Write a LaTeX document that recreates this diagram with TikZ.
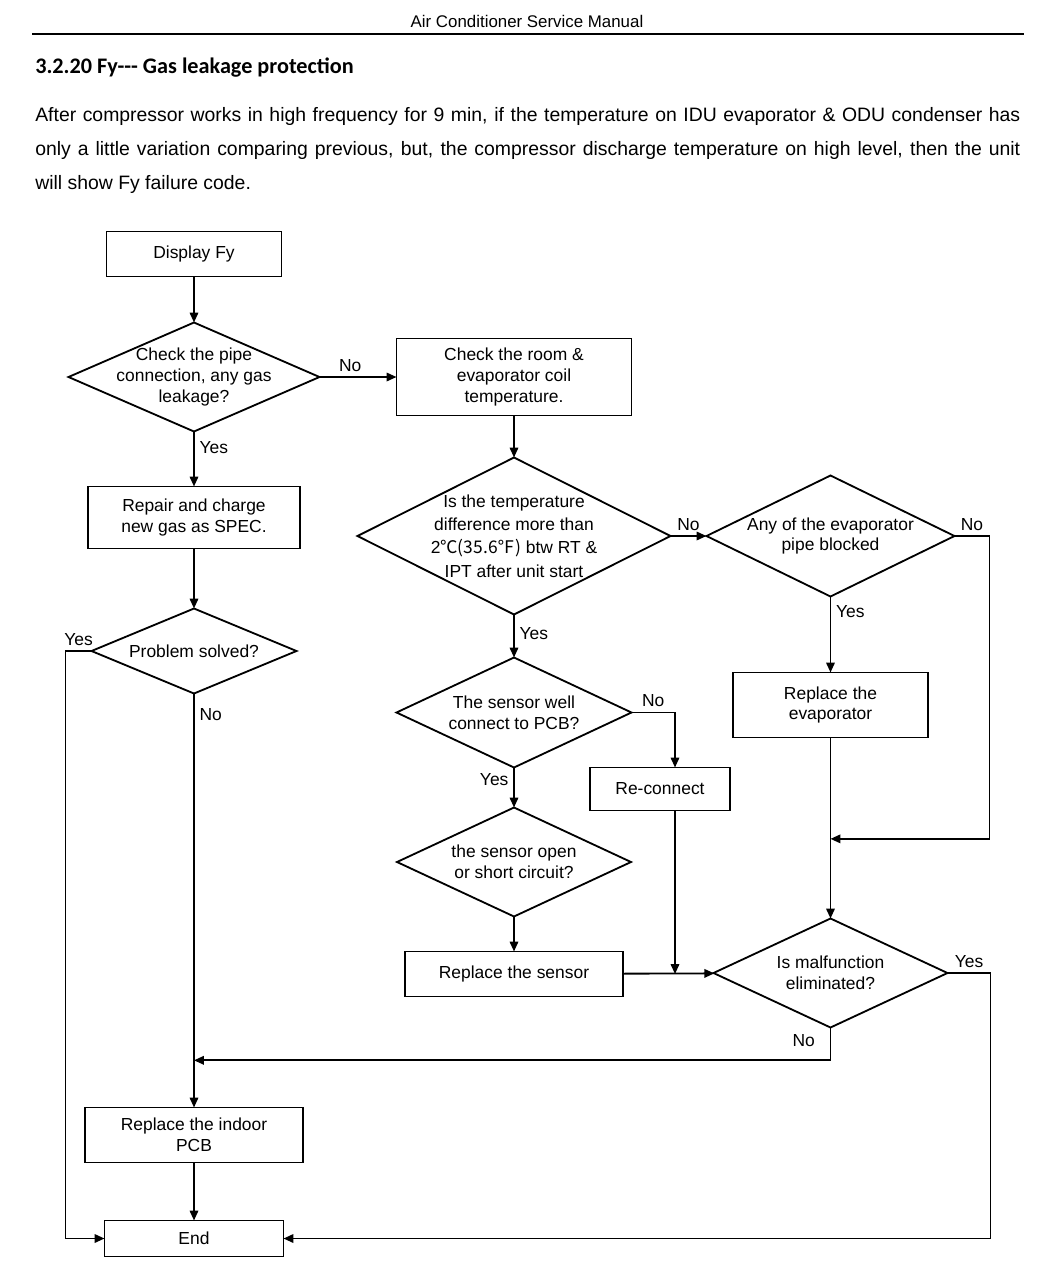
\documentclass[tikz,border=0pt]{standalone}
\usepackage{fontspec}
\setmainfont{Liberation Sans}
\newfontfamily\headingfont{Carlito}
\newfontfamily\cjkfont{Noto Sans CJK SC}
\usepackage{tikz}
\usetikzlibrary{shapes.geometric, positioning, arrows.meta, calc}

\newlength{\unitpx}
\setlength{\unitpx}{0.025cm}

\tikzset{
    block/.style={draw, line width=1.3pt, rectangle, align=center,
        inner sep=0pt, outer sep=0pt},
    decision/.style={draw, line width=1.3pt, diamond, aspect=2.15,
        align=center, inner sep=0pt, outer sep=0pt},
    flow/.style={->, line width=1.3pt},
}

\begin{document}
\begin{tikzpicture}[x=0.025cm, y=-0.025cm,
    >={Triangle[length=7pt,width=6pt]},
    font=\fontsize{12.4}{14.6}\selectfont]

    \fill[white] (0,0) rectangle (1044,1278);
    \useasboundingbox (0,0) rectangle (1044,1278);

    % page head and text
    \node[font=\fontsize{12}{14}\selectfont, anchor=base, inner sep=0pt]
        (head) at (527,27) {Air Conditioner Service Manual};
    \draw[line width=1.4pt] (32,34) -- (1024,34);
    \node[font=\headingfont\bfseries\fontsize{15.8}{18}\selectfont,
        anchor=base west, inner sep=0pt]
        (title) at (35,73) {3.2.20 Fy--- Gas leakage protection};
    \node[font=\fontsize{13.8}{24.2}\selectfont, anchor=base west,
        inner sep=0pt, text width=985\unitpx, align=justify]
        (intro) at (35,121) {After compressor works in high frequency for 9 min, if the temperature on IDU evaporator \& ODU condenser has\linebreak only a little variation comparing previous, but, the compressor discharge temperature on high level, then the unit\linebreak will show Fy failure code.};

    % left column
    \node[block, minimum width=175\unitpx, minimum height=45\unitpx]
        (disp) at (194,254) {Display Fy};
    \node[decision, minimum width=251\unitpx, minimum height=109\unitpx,
        aspect=2.3, inner ysep=-10pt, below=46\unitpx of disp]
        (pipe) {Check the pipe\\connection, any gas\\leakage?};
    \node[block, minimum width=212\unitpx, minimum height=62\unitpx,
        below=55\unitpx of pipe]
        (repair) {Repair and charge\\new gas as SPEC.};
    \node[decision, minimum width=205\unitpx, minimum height=85\unitpx,
        aspect=2.4, below=60\unitpx of repair]
        (solved) {Problem solved?};
    \node[block, minimum width=218\unitpx, minimum height=55\unitpx,
        below=414\unitpx of solved]
        (pcb) {Replace the indoor\\PCB};
    \node[block, minimum width=179\unitpx, minimum height=36\unitpx,
        below=58\unitpx of pcb]
        (end) {End};

    % middle and right columns
    \node[block, minimum width=235\unitpx, minimum height=77\unitpx,
        right=77\unitpx of pipe]
        (room) {Check the room \&\\evaporator coil\\temperature.};
    \node[decision, minimum width=313\unitpx, minimum height=157\unitpx,
        aspect=2, inner ysep=-10pt, font=\fontsize{12.4}{16.7}\selectfont,
        below=42\unitpx of room]
        (tdiff) {Is the temperature\\difference more than\\2{\cjkfont ℃(35.6℉)} btw RT \&\\IPT after unit start};
    \node[decision, minimum width=248\unitpx, minimum height=121\unitpx,
        aspect=2.05, inner ysep=-10pt, right=36\unitpx of tdiff]
        (blocked) {Any of the evaporator\\pipe blocked};
    \node[block, minimum width=195\unitpx, minimum height=65\unitpx,
        below=76\unitpx of blocked]
        (evap) {Replace the\\evaporator};
    \node[decision, minimum width=235\unitpx, minimum height=110\unitpx,
        below=43\unitpx of tdiff]
        (wired) {The sensor well\\connect to PCB?};
    \node[decision, minimum width=234\unitpx, minimum height=109\unitpx,
        below=40\unitpx of wired]
        (short) {the sensor open\\or short circuit?};
    \node[block, minimum width=218\unitpx, minimum height=45\unitpx,
        below=35\unitpx of short]
        (sensor) {Replace the sensor};
    \node[block, minimum width=140\unitpx, minimum height=43\unitpx]
        (reconn) at (660,789) {Re-connect};
    \node[decision, minimum width=234\unitpx, minimum height=109\unitpx,
        below=181\unitpx of evap]
        (fixed) {Is malfunction\\eliminated?};

    \coordinate (rcTop) at ([xshift=15\unitpx]reconn.north);
    \coordinate (rcBot) at ([xshift=15\unitpx]reconn.south);
    \coordinate (joinR) at ($(evap.south)!0.56!(fixed.north)$);
    \coordinate (joinM) at (rcBot |- sensor.east);
    \coordinate (joinL) at ($(solved.south)!0.886!(pcb.north)$);

    \draw[flow] (disp) -- (pipe);
    \draw[flow] (pipe) -- node[above, pos=0.4]{No} (room);
    \draw[flow] (pipe) -- node[right, pos=0.3]{Yes} (repair);
    \draw[flow] (repair) -- (solved);
    \draw[flow] (solved.west) -- node[above]{Yes} ++(-26,0) |- (end.west);
    \draw[flow] (solved) -- node[right, pos=0.05]{No} (pcb);
    \draw[flow] (pcb) -- (end);

    \draw[flow] (room) -- (tdiff);
    \draw[flow] (tdiff) -- node[above]{No} (blocked);
    \draw[flow] (blocked) -- node[right, pos=0.2]{Yes} (evap);
    \draw[flow] (blocked.east) -- node[above]{No} ++(35,0) |- (joinR);
    \draw[flow] (evap) -- (fixed);
    \draw[flow] (tdiff) -- node[right, pos=0.45]{Yes} (wired);
    \draw[flow] (wired.east) -| node[above, pos=0.25]{No} (rcTop);
    \draw[flow] (wired) -- node[left, pos=0.3]{Yes} (short);
    \draw[flow] (short) -- (sensor);
    \draw[flow] (rcBot) -- (joinM);
    \draw[flow] (sensor) -- (fixed);
    \draw[flow] (fixed.east) -- node[above]{Yes} ++(43,0) |- (end.east);
    \draw[flow] (fixed.south) |- node[left, pos=0.2, xshift=-10\unitpx]{No} (joinL);
\end{tikzpicture}
\end{document}
